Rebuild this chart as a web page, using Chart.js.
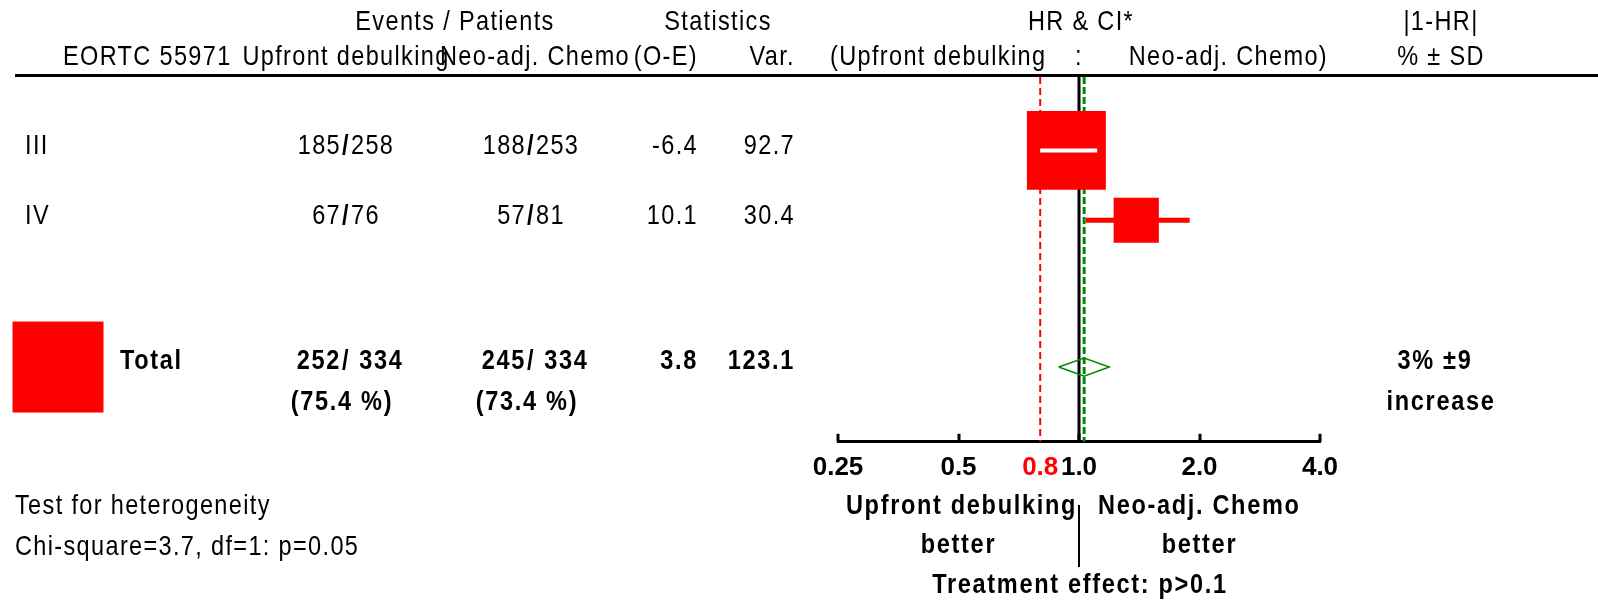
<!DOCTYPE html>
<html>
<head>
<meta charset="utf-8">
<title>EORTC 55971 - forest plot</title>
<script src="https://cdn.jsdelivr.net/npm/chart.js@4.4.1/dist/chart.umd.min.js"></script>
<style>
    body { margin: 0; background: #fff; }
    #wrap { width: 1598px; height: 600px; }
</style>
</head>
<body>
<div id="wrap"><canvas id="forest" width="1598" height="600"></canvas></div>
<script>
// subgroup rows
const subgroups = ['III', 'IV'];
const eventsUpfront = [185, 67];
const patientsUpfront = [258, 76];
const eventsNeo = [188, 57];
const patientsNeo = [253, 81];
const observedMinusExpected = [-6.4, 10.1];
const variances = [92.7, 30.4];
const hazardRatios = [0.93, 1.39];
const ciLower = [0.80, 1.04];
const ciUpper = [1.11, 1.89];

// overall
const totalEvents = [252, 245];
const totalPatients = [334, 334];
const totalObservedMinusExpected = 3.8;
const totalVariance = 123.1;
const totalHR = 1.03;
const totalCI = [0.89, 1.19];
const totalDifference = ['3% \u00b19', 'increase'];
const heterogeneity = ['Test for heterogeneity', 'Chi-square=3.7, df=1: p=0.05'];
const treatmentEffect = 'Treatment effect: p>0.1';

const referenceHR = 0.8;
const majorTicks = [0.25, 0.5, 1, 2, 4];
const tickValues = [0.25, 0.5, 0.8, 1, 2, 4];
const tickLabels = ['0.25', '0.5', '0.8', '1.0', '2.0', '4.0'];

const rowPositions = [1, 2];
const totalRow = 4.1;
const Y_MIN = -0.05;
const Y_MAX = 5.17;

const RED = '#ff0000';
const GREEN = '#008a00';
const FONT = '"Liberation Sans", Arial, sans-serif';
const NARROW = 0.84; // the original uses a condensed face
const BOX_SCALE = 8.2; // box area follows the variance

function boxSide(variance) {
    return BOX_SCALE * Math.sqrt(variance);
}

function ciFitsInBox(chart, i) {
    const x = chart.scales.x;
    const centre = x.getPixelForValue(hazardRatios[i]);
    const half = boxSide(variances[i]) / 2;
    return x.getPixelForValue(ciLower[i]) >= centre - half && x.getPixelForValue(ciUpper[i]) <= centre + half;
}

function verticalLine(value, color, width, dash, order) {
    return {
        data: [{ x: value, y: Y_MIN }, { x: value, y: Y_MAX }],
        showLine: true,
        borderColor: color,
        borderWidth: width,
        borderDash: dash,
        pointRadius: 0,
        order: order
    };
}

function buildDatasets() {
    const datasets = [];
    datasets.push(verticalLine(1, '#000', 3, [], 9));
    datasets.push(verticalLine(referenceHR, RED, 2, [7, 4], 8));
    datasets.push(verticalLine(totalHR, GREEN, 3, [7, 3], 7));

    subgroups.forEach((name, i) => {
        const ci = [{ x: ciLower[i], y: rowPositions[i] }, { x: ciUpper[i], y: rowPositions[i] }];
        // red confidence line under the box
        datasets.push({ data: ci, showLine: true, borderColor: RED, borderWidth: 5, pointRadius: 0, order: 6 });
        // white line on top when the whole interval sits inside the box
        datasets.push({
            data: ci, showLine: true, borderWidth: 4, pointRadius: 0, order: 2,
            borderColor: ctx => ciFitsInBox(ctx.chart, i) ? '#fff' : 'rgba(0,0,0,0)'
        });
    });

    datasets.push({
        data: hazardRatios.map((hr, i) => ({ x: hr, y: rowPositions[i] })),
        pointStyle: 'rect',
        pointRadius: variances.map(v => boxSide(v) / Math.SQRT2),
        backgroundColor: RED,
        borderWidth: 0,
        order: 4
    });

    const dh = 0.13;
    datasets.push({
        data: [
            { x: totalCI[0], y: totalRow },
            { x: totalHR, y: totalRow - dh },
            { x: totalCI[1], y: totalRow },
            { x: totalHR, y: totalRow + dh },
            { x: totalCI[0], y: totalRow }
        ],
        showLine: true,
        borderColor: GREEN,
        borderWidth: 1.5,
        pointRadius: 0,
        fill: false,
        order: 1
    });
    return datasets;
}

// condensed text: squeeze horizontally, then open up the letter spacing a little
function drawText(ctx, str, x, y, align, bold, color) {
    ctx.save();
    ctx.font = (bold ? 'bold ' : '') + '28px ' + FONT;
    ctx.letterSpacing = bold ? '2px' : '1.6px';
    ctx.textAlign = align;
    ctx.textBaseline = 'middle';
    ctx.fillStyle = color || '#000';
    ctx.translate(x, y);
    ctx.scale(NARROW, 1);
    ctx.fillText(str, 0, 0);
    ctx.restore();
}

function drawFraction(ctx, a, b, x, y, bold) {
    drawText(ctx, String(a), x - 5, y, 'right', bold);
    drawText(ctx, '/', x, y, 'center', true);
    drawText(ctx, (bold ? ' ' : '') + b, x + 5, y, 'left', bold);
}

const forestPlugin = {
    id: 'forestTable',
    afterDraw(chart) {
        const ctx = chart.ctx;
        const xs = chart.scales.x;
        const ys = chart.scales.y;
        const area = chart.chartArea;
        const col1 = 346, col2 = 531, colOE = 698, colVar = 795, colDiff = 1441;
        ctx.save();

        // header
        drawText(ctx, 'Events / Patients', 455, 22, 'center');
        drawText(ctx, 'Statistics', 718, 22, 'center');
        drawText(ctx, 'HR & CI*', xs.getPixelForValue(1) + 2, 22, 'center');
        drawText(ctx, '|1-HR|', colDiff, 22, 'center');
        drawText(ctx, 'EORTC 55971', 63, 57, 'left');
        drawText(ctx, 'Upfront debulking', col1, 57, 'center');
        drawText(ctx, 'Neo-adj. Chemo', col2 + 4, 57, 'center');
        drawText(ctx, '(O-E)', colOE, 57, 'right');
        drawText(ctx, 'Var.', colVar, 57, 'right');
        drawText(ctx, '(Upfront debulking', 830, 57, 'left');
        drawText(ctx, ':', xs.getPixelForValue(1), 57, 'center');
        drawText(ctx, 'Neo-adj. Chemo)', 1328, 57, 'right');
        drawText(ctx, '% \u00b1 SD', colDiff, 57, 'center');

        ctx.fillStyle = '#000';
        ctx.fillRect(15, area.top - 3, chart.width - 15, 3);

        // subgroup rows
        subgroups.forEach((name, i) => {
            const y = ys.getPixelForValue(rowPositions[i]) - 4;
            drawText(ctx, name, 25, y, 'left');
            drawFraction(ctx, eventsUpfront[i], patientsUpfront[i], col1, y, false);
            drawFraction(ctx, eventsNeo[i], patientsNeo[i], col2, y, false);
            drawText(ctx, observedMinusExpected[i].toFixed(1), colOE, y, 'right');
            drawText(ctx, variances[i].toFixed(1), colVar, y, 'right');
        });

        // total row
        const ty = ys.getPixelForValue(totalRow);
        const side = boxSide(totalVariance);
        ctx.fillStyle = RED;
        ctx.fillRect(58 - side / 2, ty - side / 2, side, side);
        drawText(ctx, 'Total', 120, ty - 6, 'left', true);
        drawFraction(ctx, totalEvents[0], totalPatients[0], col1, ty - 6, true);
        drawFraction(ctx, totalEvents[1], totalPatients[1], col2, ty - 6, true);
        drawText(ctx, '(' + (totalEvents[0] / totalPatients[0] * 100).toFixed(1) + ' %)', col1 - 4, ty + 35, 'center', true);
        drawText(ctx, '(' + (totalEvents[1] / totalPatients[1] * 100).toFixed(1) + ' %)', col2 - 4, ty + 35, 'center', true);
        drawText(ctx, totalObservedMinusExpected.toFixed(1), colOE, ty - 6, 'right', true);
        drawText(ctx, totalVariance.toFixed(1), colVar, ty - 6, 'right', true);
        drawText(ctx, totalDifference[0], colDiff - 6, ty - 6, 'center', true);
        drawText(ctx, totalDifference[1], colDiff, ty + 35, 'center', true);

        // short tick marks pointing up from the axis
        ctx.strokeStyle = '#000';
        ctx.lineWidth = 3;
        majorTicks.forEach(v => {
            const x = Math.round(xs.getPixelForValue(v));
            ctx.beginPath();
            ctx.moveTo(x, area.bottom);
            ctx.lineTo(x, area.bottom - 8);
            ctx.stroke();
        });

        // axis captions
        const x1 = xs.getPixelForValue(1);
        drawText(ctx, 'Upfront debulking', x1 - 2, 506, 'right', true);
        drawText(ctx, 'Neo-adj. Chemo', x1 + 19, 506, 'left', true);
        drawText(ctx, 'better', xs.getPixelForValue(0.5), 545, 'center', true);
        drawText(ctx, 'better', xs.getPixelForValue(2), 545, 'center', true);
        drawText(ctx, treatmentEffect, x1 + 1, 585, 'center', true);
        ctx.lineWidth = 2;
        ctx.beginPath();
        ctx.moveTo(x1, 505);
        ctx.lineTo(x1, 567);
        ctx.stroke();

        drawText(ctx, heterogeneity[0], 15, 506, 'left');
        drawText(ctx, heterogeneity[1], 15, 547, 'left');
        ctx.restore();
    }
};

new Chart(document.getElementById('forest'), {
    type: 'scatter',
    data: { datasets: buildDatasets() },
    options: {
        responsive: false,
        animation: false,
        events: [],
        layout: { padding: { left: 838, right: 278, top: 77, bottom: 107 } },
        plugins: { legend: { display: false }, tooltip: { enabled: false } },
        scales: {
            x: {
                type: 'logarithmic',
                min: 0.25,
                max: 4,
                afterBuildTicks: scale => {
                    scale.ticks = tickValues.map(v => ({ value: v }));
                },
                grid: { display: false, drawTicks: false },
                border: { display: true, color: '#000', width: 3 },
                ticks: {
                    autoSkip: false,
                    maxRotation: 0,
                    padding: 10,
                    font: { family: FONT, size: 26, weight: 'bold' },
                    color: c => c.tick && c.tick.value === referenceHR ? RED : '#000',
                    callback: (value, index) => tickLabels[index]
                }
            },
            y: { type: 'linear', display: false, reverse: true, min: Y_MIN, max: Y_MAX }
        }
    },
    plugins: [forestPlugin]
});
</script>
</body>
</html>
